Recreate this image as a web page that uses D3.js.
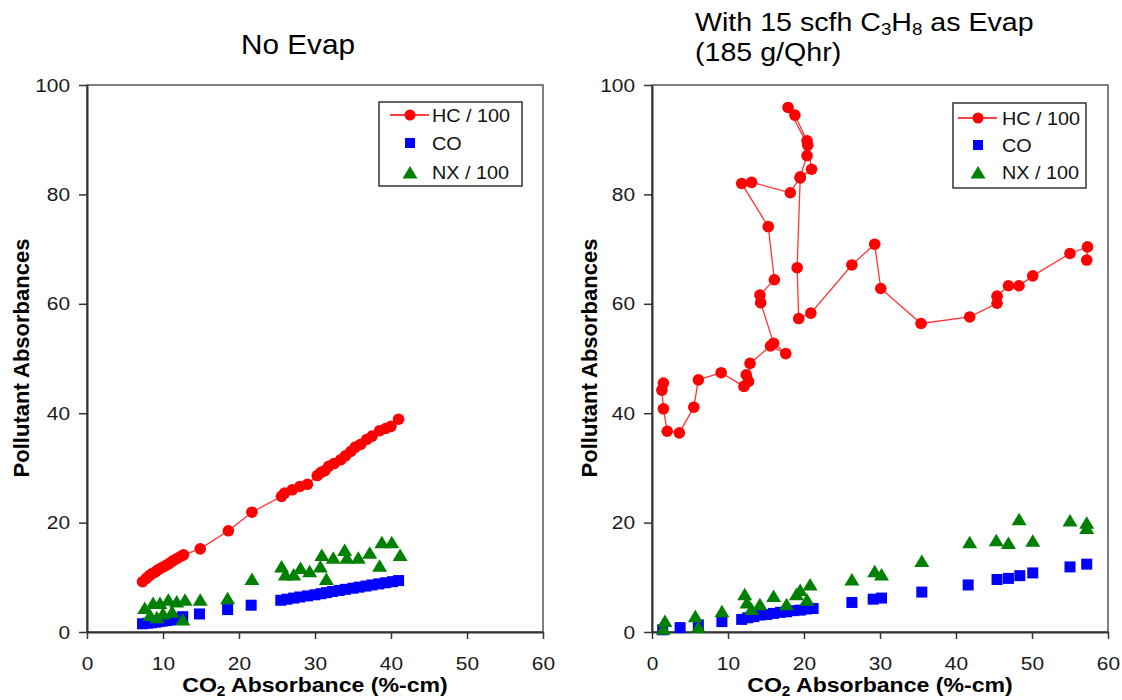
<!DOCTYPE html>
<html>
<head>
<meta charset="utf-8">
<script src="https://cdn.jsdelivr.net/npm/d3@7"></script>
<style>
    body { margin: 0; background: #fff; }
    text { font-family: Arial, "Liberation Sans", sans-serif; }
</style>
</head>
<body>
<div id="chart"></div>
<script>

// axis ticks and legend
var xTicks = [0, 10, 20, 30, 40, 50, 60];
var yTicks = [0, 20, 40, 60, 80, 100];
var legendLabels = ["HC / 100", "CO", "NX / 100"];

// ---- No Evap panel (x = CO2 absorbance, y = pollutant absorbance)
var noEvapHC = [[7.3, 9.2], [7.8, 9.8], [8.2, 10.3], [8.6, 10.7], [9.0, 11.0], [9.4, 11.4], [9.9, 11.8],
    [10.3, 12.1], [10.8, 12.5], [11.3, 13.0], [11.8, 13.4], [12.3, 13.8], [12.7, 14.1], [14.9, 15.2],
    [18.6, 18.5], [21.7, 21.9], [25.6, 24.8], [26.0, 25.4], [27.0, 26.0], [28.0, 26.6], [29.0, 27.0],
    [30.3, 28.6], [30.8, 29.2], [31.3, 29.5], [31.8, 30.3], [32.5, 30.8], [33.4, 31.5], [34.0, 32.2],
    [34.7, 33.0], [35.3, 33.8], [36.0, 34.3], [36.8, 35.2], [37.5, 35.8], [38.5, 36.8], [39.3, 37.2],
    [40.0, 37.6], [41.0, 38.9]];

var noEvapCO = [[7.3, 1.5], [8.0, 1.6], [8.5, 1.7], [9.0, 1.8], [9.5, 1.9], [10.0, 2.0], [10.5, 2.1],
    [11.0, 2.2], [11.5, 2.4], [12.0, 2.5], [12.6, 2.8], [14.8, 3.3], [18.5, 4.1], [21.6, 4.9],
    [25.5, 5.8], [26.3, 6.0], [27.2, 6.2], [28.0, 6.4], [29.0, 6.6], [30.0, 6.8], [30.8, 7.0],
    [31.5, 7.2], [32.3, 7.4], [33.2, 7.6], [34.0, 7.8], [35.0, 8.0], [35.8, 8.2], [36.7, 8.4],
    [37.5, 8.6], [38.4, 8.8], [39.3, 9.0], [40.2, 9.2], [41.0, 9.4]];

var noEvapNX = [[7.6, 4.3], [8.3, 3.0], [8.7, 5.2], [9.2, 2.6], [9.6, 5.2], [10.0, 3.3], [10.7, 5.8],
    [11.2, 3.6], [11.8, 5.5], [12.6, 2.2], [12.9, 5.8], [14.9, 5.8], [18.5, 6.1], [21.7, 9.6],
    [25.6, 11.9], [26.1, 10.4], [27.2, 10.4], [28.1, 11.6], [29.3, 11.0], [30.7, 11.9], [30.9, 14.0],
    [31.5, 9.6], [32.4, 13.5], [33.9, 14.9], [34.2, 13.5], [35.7, 13.5], [37.2, 14.4], [38.5, 12.0],
    [38.8, 16.3], [40.1, 16.3], [41.2, 14.0]];

// ---- With evap panel
var evapHC = [[1.5, 45.5], [1.3, 44.2], [1.5, 40.8], [2.0, 36.7], [3.6, 36.4], [5.5, 41.1], [6.1, 46.1],
    [9.1, 47.4], [12.1, 44.9], [12.4, 47.0], [12.7, 45.8], [12.9, 49.1], [15.6, 52.3], [17.6, 50.9],
    [16.0, 52.8], [14.3, 60.2], [14.2, 61.6], [16.1, 64.4], [15.3, 74.1], [11.8, 82.0], [13.1, 82.2],
    [18.2, 80.3], [19.5, 83.2], [20.4, 87.1], [20.4, 89.8], [18.8, 94.5], [17.9, 95.9], [20.5, 89.0],
    [21.0, 84.6], [19.5, 83.0], [19.1, 66.6], [19.3, 57.3], [20.9, 58.3], [26.3, 67.1], [29.3, 70.9],
    [30.1, 62.8], [35.4, 56.4], [41.8, 57.6], [45.4, 60.1], [45.4, 61.4], [46.9, 63.3], [48.3, 63.3],
    [50.1, 65.1], [55.0, 69.2], [57.3, 70.4], [57.2, 68.0]];

var evapCO = [[1.4, 0.4], [3.7, 0.8], [6.1, 1.3], [9.2, 1.9], [11.8, 2.3], [12.6, 2.6], [13.4, 2.8],
    [14.2, 3.1], [15.1, 3.2], [16.0, 3.4], [16.9, 3.6], [17.7, 3.7], [18.6, 3.9], [19.5, 4.0],
    [20.3, 4.2], [21.2, 4.3], [26.3, 5.4], [29.1, 6.0], [30.2, 6.2], [35.5, 7.3], [41.6, 8.6],
    [45.4, 9.6], [46.9, 9.8], [48.4, 10.3], [50.1, 10.8], [55.0, 11.9], [57.2, 12.4]];

var evapNX = [[1.7, 1.9], [1.5, 0.5], [5.7, 2.8], [6.1, 0.8], [9.2, 3.7], [12.2, 6.8], [12.5, 5.3],
    [13.1, 4.1], [14.2, 5.0], [16.0, 6.5], [17.7, 5.0], [19.0, 6.8], [19.5, 7.6], [20.4, 5.8],
    [20.8, 8.6], [26.3, 9.5], [29.3, 11.0], [30.2, 10.4], [35.5, 12.9], [41.8, 16.3], [45.3, 16.7],
    [46.9, 16.2], [48.3, 20.5], [50.1, 16.6], [55.0, 20.3], [57.2, 19.9], [57.2, 18.9]];

var STRETCH = 1.1;
var RED = "#ff0000", BLUE = "#0000ff", GREEN = "#008000";

var svg = d3.select("#chart").append("svg")
    .attr("width", 1122)
    .attr("height", 700);

var triPath = "M0,-7L7.5,5.5L-7.5,5.5Z";

function drawPanel(p) {

    var x = d3.scaleLinear().domain([0, 60]).range([p.left, p.right]);
    var y = d3.scaleLinear().domain([0, 100]).range([632, 85]);

    var g = svg.append("g");

    // frame
    g.append("rect")
        .attr("x", x(0))
        .attr("y", y(100))
        .attr("width", x(60) - x(0))
        .attr("height", y(0) - y(100))
        .style("fill", "none")
        .style("stroke", "#555")
        .style("stroke-width", 1.5);

    var xAxis = d3.axisBottom(x).tickValues(xTicks).tickSizeInner(7).tickSizeOuter(0).tickPadding(18);
    var yAxis = d3.axisLeft(y).tickValues(yTicks).tickSizeInner(8).tickSizeOuter(0).tickPadding(9);

    var gx = g.append("g")
        .attr("transform", "translate(0," + y(0) + ")")
        .call(xAxis);
    var gy = g.append("g")
        .attr("transform", "translate(" + x(0) + ",0)")
        .call(yAxis);

    [gx, gy].forEach(function (ax) {
        ax.select(".domain").style("stroke", "#333").style("stroke-width", 2);
        ax.selectAll(".tick line").style("stroke", "#333").style("stroke-width", 1.5);
        ax.selectAll(".tick text")
            .style("font-size", "19px")
            .style("font-family", "Arial, 'Liberation Sans', sans-serif")
            .style("fill", "#1a1a1a")
            .attr("transform", "scale(" + STRETCH + ",1)");
    });
    gy.selectAll(".tick text").attr("x", -17 / STRETCH);

    // HC line + circles
    var line = d3.line()
        .x(function (d) { return x(d[0]); })
        .y(function (d) { return y(d[1]); });

    g.append("path")
        .datum(p.hc)
        .attr("d", line)
        .style("fill", "none")
        .style("stroke", RED)
        .style("stroke-opacity", 0.8)
        .style("stroke-width", 1.3);

    g.selectAll(".hc")
        .data(p.hc)
        .enter()
        .append("circle")
        .attr("class", "hc")
        .attr("cx", function (d) { return x(d[0]); })
        .attr("cy", function (d) { return y(d[1]); })
        .attr("r", 5.8)
        .style("fill", RED);

    g.selectAll(".co")
        .data(p.co)
        .enter()
        .append("rect")
        .attr("class", "co")
        .attr("x", function (d) { return x(d[0]) - 5.5; })
        .attr("y", function (d) { return y(d[1]) - 5.5; })
        .attr("width", 11)
        .attr("height", 11)
        .style("fill", BLUE);

    g.selectAll(".nx")
        .data(p.nx)
        .enter()
        .append("path")
        .attr("class", "nx")
        .attr("d", triPath)
        .attr("transform", function (d) { return "translate(" + x(d[0]) + "," + y(d[1]) + ")"; })
        .style("fill", GREEN);

    // legend
    var L = p.legend;
    var lg = g.append("g");
    lg.append("rect")
        .attr("x", L.x)
        .attr("y", L.y)
        .attr("width", L.w)
        .attr("height", L.h)
        .style("fill", "#fff")
        .style("stroke", "#333")
        .style("stroke-width", 1.5);

    lg.append("line")
        .attr("x1", L.mx - 20).attr("x2", L.mx + 19)
        .attr("y1", L.rows[0]).attr("y2", L.rows[0])
        .style("stroke", RED)
        .style("stroke-width", 1.3);
    lg.append("circle")
        .attr("cx", L.mx).attr("cy", L.rows[0]).attr("r", 5.5)
        .style("fill", RED);
    lg.append("rect")
        .attr("x", L.mx - 5).attr("y", L.rows[1] - 5)
        .attr("width", 10).attr("height", 10)
        .style("fill", BLUE);
    lg.append("path")
        .attr("d", triPath)
        .attr("transform", "translate(" + L.mx + "," + (L.rows[2] + 1) + ")")
        .style("fill", GREEN);

    legendLabels.forEach(function (lab, i) {
        addText(lg, L.tx, L.rows[i] + 6.5, lab, 18, "normal", "start", "#111");
    });

    // axis titles
    var xt = addText(g, (x(0) + x(60)) / 2, 692, "", 21, "bold", "middle", "#000");
    xt.append("tspan").text("CO");
    xt.append("tspan").attr("dy", 4).style("font-size", "14px").text("2");
    xt.append("tspan").attr("dy", -4).text(" Absorbance (%-cm)");

    g.append("text")
        .attr("transform", "translate(" + p.yTitleX + ",358) rotate(-90)")
        .attr("text-anchor", "middle")
        .style("font-size", "22px")
        .style("font-weight", "bold")
        .text("Pollutant Absorbances");
}

function addText(parent, tx, ty, str, size, weight, anchor, color) {
    return parent.append("text")
        .attr("transform", "translate(" + tx + "," + ty + ") scale(" + STRETCH + ",1)")
        .attr("text-anchor", anchor)
        .style("font-size", size + "px")
        .style("font-weight", weight)
        .style("fill", color)
        .text(str);
}

drawPanel({
    left: 87, right: 543,
    hc: noEvapHC, co: noEvapCO, nx: noEvapNX,
    legend: {x: 379, y: 102, w: 143, h: 84, mx: 410, tx: 432, rows: [115, 143, 172]},
    yTitleX: 29
});

drawPanel({
    left: 652, right: 1108,
    hc: evapHC, co: evapCO, nx: evapNX,
    legend: {x: 953, y: 103, w: 133, h: 85, mx: 978, tx: 1002, rows: [118, 145, 172]},
    yTitleX: 597
});

// titles
addText(svg, 298, 54, "No Evap", 27, "normal", "middle", "#000");

var t1 = addText(svg, 695, 31, "", 26, "normal", "start", "#000");
t1.append("tspan").text("With 15 scfh C");
t1.append("tspan").attr("dy", 4).style("font-size", "17px").text("3");
t1.append("tspan").attr("dy", -4).text("H");
t1.append("tspan").attr("dy", 4).style("font-size", "17px").text("8");
t1.append("tspan").attr("dy", -4).text(" as Evap");

addText(svg, 695, 61, "(185 g/Qhr)", 26, "normal", "start", "#000");

</script>
</body>
</html>
